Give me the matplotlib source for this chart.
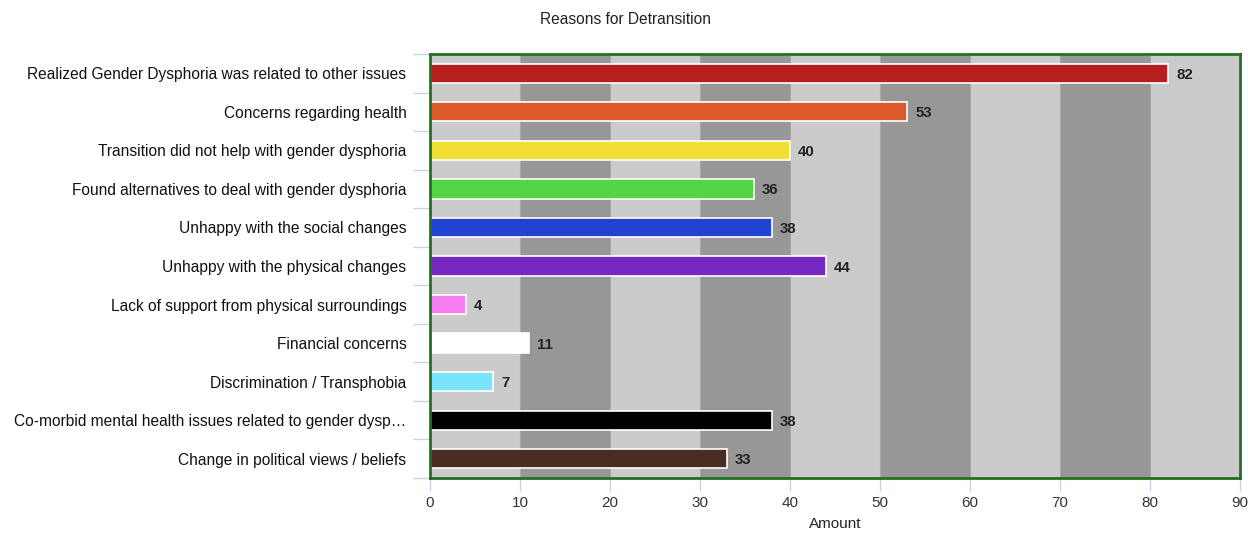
import matplotlib.pyplot as plt
import numpy as np

plt.rcParams['font.family'] = ['Liberation Sans', 'DejaVu Sans']

reasons = [
    "Realized Gender Dysphoria was related to other issues",
    "Concerns regarding health",
    "Transition did not help with gender dysphoria",
    "Found alternatives to deal with gender dysphoria",
    "Unhappy with the social changes",
    "Unhappy with the physical changes",
    "Lack of support from physical surroundings",
    "Financial concerns",
    "Discrimination / Transphobia",
    "Co-morbid mental health issues related to gender dysp\u2026",
    "Change in political views / beliefs",
]
amounts = [82, 53, 40, 36, 38, 44, 4, 11, 7, 38, 33]
bar_colors = ["#b51f20", "#dc5a2a", "#f0e035", "#55d444", "#2242d2",
              "#7628c2", "#f77ef0", "#ffffff", "#7ae4fa", "#000000", "#4a2c22"]

x_max = 90
x_ticks = list(range(0, x_max + 1, 10))

fig = plt.figure(figsize=(12.48, 5.36), dpi=100)
ax = fig.add_axes([430 / 1248, 1 - 478 / 536, 810 / 1248, 424 / 536])

n = len(reasons)
y = np.arange(n)

# alternating vertical bands
for i, x0 in enumerate(x_ticks[:-1]):
    ax.axvspan(x0, x0 + 10, color="#cbcbcb" if i % 2 == 0 else "#979797", zorder=0, lw=0)
for x0 in x_ticks[1:-1]:
    ax.axvline(x0, color="#a8a8a8", lw=0.8, zorder=0.5)

ax.barh(y, amounts, height=0.5, color=bar_colors, edgecolor="white", linewidth=1.2, zorder=2)

for yi, v in zip(y, amounts):
    ax.text(v + 0.9, yi + 0.04, str(v), va="center", ha="left", fontsize=10.8,
            fontweight="bold", color="#222222", zorder=3)

ax.set_xlim(0, x_max)
ax.set_ylim(n - 0.5, -0.5)

ax.set_xticks(x_ticks)
ax.set_xticklabels([str(t) for t in x_ticks], fontsize=11, color="#333333")
ax.tick_params(axis="x", length=9, width=1, color="#c5d5e8", pad=4)

ax.set_yticks(y)
ax.set_yticklabels(reasons, fontsize=11.2, color="#111111")
ax.tick_params(axis="y", length=0, pad=17)
ax.set_yticks(np.arange(-0.5, n, 1.0), minor=True)
ax.tick_params(axis="y", which="minor", length=12, width=1, color="#c5d5e8")

for s in ax.spines.values():
    s.set_color("#237023")
    s.set_linewidth(2)

ax.set_xlabel("Amount", fontsize=11, color="#222222", labelpad=5)
fig.text(626 / 1248, 1 - 20 / 536, "Reasons for Detransition", ha="center",
         va="center", fontsize=11.2, color="#222222")

fig.savefig("out.png", dpi=100)
